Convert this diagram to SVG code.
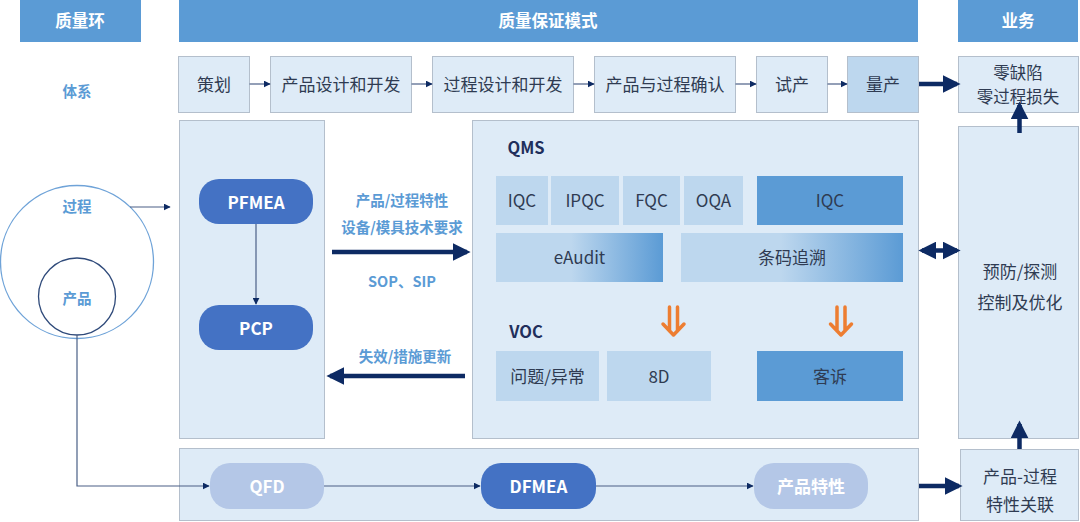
<svg xmlns="http://www.w3.org/2000/svg" width="1080" height="522" viewBox="0 0 1080 522">
<style>
text{font-family:"Noto Sans CJK SC","Noto Sans",sans-serif;text-anchor:middle;dominant-baseline:central}
.hdr{fill:#5B9BD5}
.ht{fill:#fff;font-size:16.5px;font-weight:bold}
.step{fill:#DEEBF7;stroke:#B4BFCC;stroke-width:1}
.st{fill:#2F3B52;font-size:17px}
.panel{fill:#DEEBF7;stroke:#B4BFCC;stroke-width:1}
.lb{fill:#5B9BD5;font-size:14.5px;font-weight:bold}
.pill{fill:#4472C4}
.pillL{fill:#B4C7E7}
.pt{fill:#fff;font-size:17px;font-weight:bold}
.lt{fill:#BDD7EE}
.dk{fill:#5B9BD5}
.bt{fill:#2F3B52;font-size:17px}
.sec{fill:#1F2F5C;font-size:16.5px;font-weight:bold}
.thin{stroke:#4A5F86;stroke-width:1.2;fill:none}
.thick{stroke:#0D2A63;stroke-width:4.5;fill:none}
</style>
<defs>
<marker id="ah" viewBox="0 0 10 10" refX="9" refY="5" markerWidth="7" markerHeight="7" markerUnits="userSpaceOnUse" orient="auto"><path d="M0,0 L10,5 L0,10 z" fill="#0D2A63"/></marker>
<marker id="ahb" viewBox="0 0 10 10" refX="8" refY="5" markerWidth="4" markerHeight="4" orient="auto"><path d="M0,0 L10,5 L0,10 z" fill="#0D2A63"/></marker>
<marker id="ahs" viewBox="0 0 10 10" refX="8" refY="5" markerWidth="4" markerHeight="4" orient="auto-start-reverse"><path d="M0,0 L10,5 L0,10 z" fill="#0D2A63"/></marker>
<linearGradient id="g1" x1="0" y1="0" x2="1" y2="0"><stop offset="0.45" stop-color="#BDD7EE"/><stop offset="1" stop-color="#5B9BD5"/></linearGradient>
<linearGradient id="g2" x1="0" y1="0" x2="1" y2="0"><stop offset="0.45" stop-color="#BDD7EE"/><stop offset="1" stop-color="#5B9BD5"/></linearGradient>
</defs>

<g id="headers">
<rect class="hdr" x="20" y="0" width="121" height="42"/><text class="ht" x="80" y="20">质量环</text>
<rect class="hdr" x="179" y="0" width="739" height="42"/><text class="ht" x="548" y="20">质量保证模式</text>
<rect class="hdr" x="958" y="0" width="120" height="42"/><text class="ht" x="1018" y="20">业务</text>
</g>
<text class="lb" x="77" y="90">体系</text>

<g id="steps">
<g id="s1"><rect class="step" x="178.5" y="56.5" width="71" height="56"/><text class="st" x="214" y="83">策划</text></g>
<g id="s2"><rect class="step" x="270.5" y="56.5" width="141" height="56"/><text class="st" x="341" y="83">产品设计和开发</text></g>
<g id="s3"><rect class="step" x="432.5" y="56.5" width="141" height="56"/><text class="st" x="503" y="83">过程设计和开发</text></g>
<g id="s4"><rect class="step" x="594.5" y="56.5" width="141" height="56"/><text class="st" x="665" y="83">产品与过程确认</text></g>
<g id="s5"><rect class="step" x="756.5" y="56.5" width="71" height="56"/><text class="st" x="792" y="83">试产</text></g>
<g id="s6"><rect class="step" x="847.5" y="56.5" width="71" height="56" style="fill:#BDD7EE"/><text class="st" x="883" y="83">量产</text></g>
<g id="goal"><rect class="step" x="958.5" y="56.5" width="120" height="56"/><text class="st" x="1018" y="72" style="font-size:16.5px">零缺陷</text><text class="st" x="1018" y="96" style="font-size:16.5px">零过程损失</text></g>
</g>

<g id="circles">
<circle cx="77" cy="262" r="76.5" fill="none" stroke="#6FA3D8" stroke-width="1.3"/>
<circle cx="77" cy="296.5" r="38.5" fill="none" stroke="#2F4A7A" stroke-width="1.3"/>
<text class="lb" x="77" y="205">过程</text>
<text class="lb" x="77" y="297">产品</text>
</g>

<g id="leftPanel">
<rect class="panel" x="179.5" y="120.5" width="145" height="318"/>
<g id="pfmea"><rect class="pill" x="199" y="179" width="114" height="45" rx="20"/><text class="pt" x="256" y="201">PFMEA</text></g>
<g id="pcp"><rect class="pill" x="199" y="305" width="114" height="45" rx="20"/><text class="pt" x="256" y="327">PCP</text></g>
</g>

<g id="midLabels">
<text class="lb" x="402" y="199">产品/过程特性</text>
<text class="lb" x="402" y="226">设备/模具技术要求</text>
<text class="lb" x="402" y="280">SOP、SIP</text>
<text class="lb" x="405" y="355">失效/措施更新</text>
</g>

<g id="midPanel">
<rect class="panel" x="472.5" y="120.5" width="446" height="318"/>
<text class="sec" x="526" y="147">QMS</text>
<rect class="lt" x="496" y="176" width="52" height="49"/><text class="bt" x="522" y="199.5">IQC</text>
<rect class="lt" x="551" y="176" width="68" height="49"/><text class="bt" x="585" y="199.5">IPQC</text>
<rect class="lt" x="623" y="176" width="57" height="49"/><text class="bt" x="651.5" y="199.5">FQC</text>
<rect class="lt" x="684" y="176" width="59" height="49"/><text class="bt" x="713.5" y="199.5">OQA</text>
<rect class="dk" x="757" y="176" width="146" height="49"/><text class="bt" x="830" y="199.5">IQC</text>
<rect fill="url(#g1)" x="496" y="233" width="167" height="49"/><text class="bt" x="579.5" y="256.5">eAudit</text>
<rect fill="url(#g2)" x="681" y="233" width="222" height="49"/><text class="bt" x="792" y="256.5">条码追溯</text>
<g fill="none" stroke="#ED7D31" stroke-width="3.5" stroke-linecap="round" stroke-linejoin="round">
<path d="M669.5,307 V331 M677.5,307 V331 M663,324 L673.5,335 L684,324"/>
<path d="M837,307 V331 M845,307 V331 M830.5,324 L841,335 L851.5,324"/>
</g>
<text class="sec" x="526" y="331">VOC</text>
<rect class="lt" x="496" y="351" width="103" height="50"/><text class="bt" x="547.5" y="375">问题/异常</text>
<rect class="lt" x="607" y="351" width="104" height="50"/><text class="bt" x="659" y="375">8D</text>
<rect class="dk" x="757" y="351" width="146" height="50"/><text class="bt" x="830" y="375">客诉</text>
</g>

<g id="rightPanel">
<rect class="panel" x="958.5" y="126.5" width="120" height="312"/>
<text class="st" x="1020" y="270">预防/探测</text>
<text class="st" x="1020" y="301">控制及优化</text>
</g>

<g id="bottomPanel">
<rect class="panel" x="179.5" y="448.5" width="739" height="72"/>
<g id="qfd"><rect class="pillL" x="210" y="463" width="114" height="46" rx="20"/><text class="pt" x="267" y="485">QFD</text></g>
<g id="dfmea"><rect class="pill" x="481" y="463" width="115" height="46" rx="20"/><text class="pt" x="538.5" y="485">DFMEA</text></g>
<g id="pc"><rect class="pillL" x="754" y="463" width="114" height="46" rx="20"/><text class="pt" x="811" y="485">产品特性</text></g>
</g>
<g id="link">
<rect class="panel" x="960.5" y="449.5" width="118" height="71"/>
<text class="st" x="1020" y="475">产品-过程</text>
<text class="st" x="1020" y="503">特性关联</text>
</g>

<g id="connectors">
<line class="thin" x1="249.5" y1="84" x2="270" y2="84" marker-end="url(#ah)"/>
<line class="thin" x1="411.5" y1="84" x2="432" y2="84" marker-end="url(#ah)"/>
<line class="thin" x1="573.5" y1="84" x2="594" y2="84" marker-end="url(#ah)"/>
<line class="thin" x1="735.5" y1="84" x2="756" y2="84" marker-end="url(#ah)"/>
<line class="thin" x1="827.5" y1="84" x2="847" y2="84" marker-end="url(#ah)"/>
<line class="thick" x1="919" y1="84" x2="957" y2="84" marker-end="url(#ahb)"/>
<line class="thin" x1="130" y1="207" x2="170" y2="207" marker-end="url(#ah)"/>
<line class="thin" x1="256" y1="224" x2="256" y2="304" marker-end="url(#ah)"/>
<line class="thick" x1="332" y1="252" x2="467" y2="252" marker-end="url(#ahb)"/>
<line class="thick" x1="465" y1="376" x2="330" y2="376" marker-end="url(#ahb)"/>
<line class="thick" x1="922" y1="250.5" x2="957" y2="250.5" marker-start="url(#ahs)" marker-end="url(#ahs)"/>
<line class="thick" x1="1019.5" y1="133" x2="1019.5" y2="105" marker-end="url(#ahb)"/>
<line class="thick" x1="1019.5" y1="449" x2="1019.5" y2="424" marker-end="url(#ahb)"/>
<polyline class="thin" points="77,335 77,486 209,486" marker-end="url(#ah)"/>
<line class="thin" x1="324" y1="486" x2="480" y2="486" marker-end="url(#ah)"/>
<line class="thin" x1="596" y1="486" x2="753" y2="486" marker-end="url(#ah)"/>
<line class="thick" x1="919" y1="486" x2="959" y2="486" marker-end="url(#ahb)"/>
</g>
</svg>
